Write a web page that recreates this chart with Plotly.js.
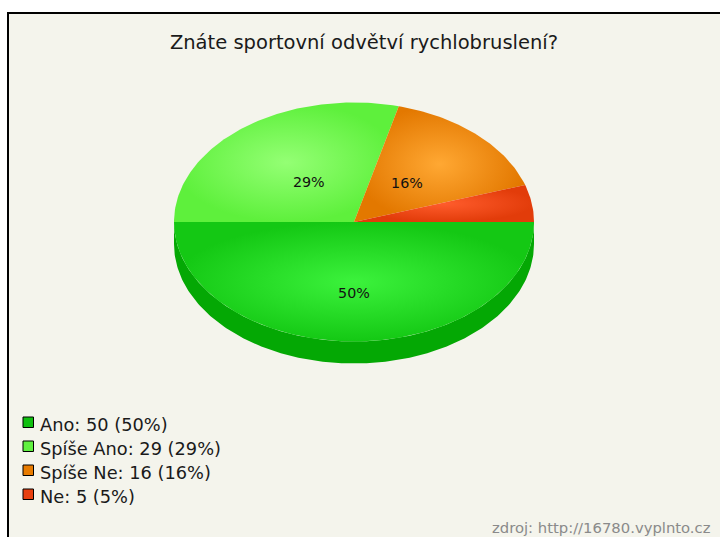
<!DOCTYPE html>
<html><head><meta charset="utf-8">
<script src="https://cdn.plot.ly/plotly-3.0.1.min.js"></script>
<style>html,body{margin:0;padding:0;background:#fff;}#chart{width:720px;height:537px;}</style>
</head><body><div id="chart"></div>
<script>
// ---- data ----
const categories = ['Ano', 'Spíše Ano', 'Spíše Ne', 'Ne'];
const values = [50, 29, 16, 5];
const chartTitle = 'Znáte sportovní odvětví rychlobruslení?';
const sourceText = 'zdroj: http://16780.vyplnto.cz';

// ---- styles ----
const faceInner = ['#3cf23c', '#94ff74', '#ffa833', '#ff5c2c'];
const faceOuter = ['#14c814', '#5ef03c', '#e37800', '#e23c0a'];
const sideColors = ['#04a804', '#48d028', '#c06400', '#c03008'];
const legendColors = ['#10c010', '#60f040', '#e87b00', '#e84010'];
const labelR = [0.61, 0.41, 0.43, 0.45];
const FONT = 'DejaVu Sans, Verdana, sans-serif';

const W = 720, H = 537;
const cx = 354, cy = 222, rx = 180, ry = 119.5, depth = 22;

const total = values.reduce((a, b) => a + b, 0);
const pcts = values.map(v => Math.round(v / total * 100));

const traces = [];
const sideTraces = [];
const faceTraces = [];
const lx = [], ly = [], lt = [];
let acc = 0;
values.forEach((v, i) => {
  const a0 = acc / total * 2 * Math.PI;
  acc += v;
  const a1 = acc / total * 2 * Math.PI;
  const steps = Math.max(2, Math.ceil((a1 - a0) / (Math.PI / 180)));
  // face
  const fx = [cx], fy = [cy];
  for (let k = 0; k <= steps; k++) {
    const a = a0 + (a1 - a0) * k / steps;
    fx.push(cx + rx * Math.cos(a));
    fy.push(cy + ry * Math.sin(a));
  }
  fx.push(cx); fy.push(cy);
  faceTraces.push({
    type: 'scatter', mode: 'lines', x: fx, y: fy, fill: 'toself',
    fillgradient: {type: 'radial', colorscale: [[0, faceInner[i]], [1, faceOuter[i]]]},
    line: {width: 0, color: faceOuter[i]}, hoverinfo: 'skip', showlegend: false, name: categories[i]
  });
  // side (front half only: angles 0..PI with y downwards)
  const s0 = Math.max(a0, 0), s1 = Math.min(a1, Math.PI);
  if (s1 > s0) {
    const n = Math.max(2, Math.ceil((s1 - s0) / (Math.PI / 180)));
    const sx = [], sy = [];
    for (let k = 0; k <= n; k++) {
      const a = s0 + (s1 - s0) * k / n;
      sx.push(cx + rx * Math.cos(a)); sy.push(cy + ry * Math.sin(a));
    }
    for (let k = n; k >= 0; k--) {
      const a = s0 + (s1 - s0) * k / n;
      sx.push(cx + rx * Math.cos(a)); sy.push(cy + ry * Math.sin(a) + depth);
    }
    sideTraces.push({
      type: 'scatter', mode: 'lines', x: sx, y: sy, fill: 'toself', fillcolor: sideColors[i],
      line: {width: 0, color: sideColors[i]}, hoverinfo: 'skip', showlegend: false
    });
  }
  // label
  if (pcts[i] >= 10) {
    const m = (a0 + a1) / 2;
    lx.push(cx + rx * labelR[i] * Math.cos(m));
    ly.push(cy + ry * labelR[i] * Math.sin(m));
    lt.push(pcts[i] + '%');
  }
});

traces.push(...sideTraces, ...faceTraces);
traces.push({
  type: 'scatter', mode: 'text', x: lx, y: ly, text: lt, textposition: 'middle center',
  textfont: {family: FONT, size: 14.3, color: '#111'}, hoverinfo: 'skip', showlegend: false
});

const shapes = [{
  type: 'rect', xref: 'x', yref: 'y', x0: 8, y0: 13, x1: 740, y1: 560,
  fillcolor: '#f4f4ec', line: {color: '#000', width: 2}, layer: 'below'
}];
const annotations = [];
const legendTop = 424.5, legendStep = 24;
categories.forEach((c, i) => {
  const yc = legendTop + i * legendStep;
  shapes.push({
    type: 'rect', xref: 'x', yref: 'y', x0: 23, x1: 33.5, y0: yc - 7.5, y1: yc + 3,
    fillcolor: legendColors[i], line: {color: '#000', width: 1}, layer: 'above'
  });
  annotations.push({
    xref: 'x', yref: 'y', x: 38, y: yc, xanchor: 'left', yanchor: 'middle', showarrow: false,
    text: c + ': ' + values[i] + ' (' + pcts[i] + '%)',
    font: {family: FONT, size: 17.8, color: '#1a1a1a'}
  });
});
annotations.push({
  xref: 'x', yref: 'y', x: 713, y: 527, xanchor: 'right', yanchor: 'middle', showarrow: false,
  text: sourceText, font: {family: FONT, size: 14.8, color: '#8a8a8a'}
});

const layout = {
  width: W, height: H, margin: {l: 0, r: 0, t: 0, b: 0, pad: 0},
  paper_bgcolor: '#ffffff', plot_bgcolor: 'rgba(0,0,0,0)',
  title: {text: chartTitle, x: 364 / W, xanchor: 'center', xref: 'paper', y: 1 - 42 / H, yanchor: 'middle', yref: 'container',
    font: {family: FONT, size: 19.5, color: '#1a1a1a'}},
  xaxis: {range: [0, W], visible: false, fixedrange: true},
  yaxis: {range: [H, 0], visible: false, fixedrange: true},
  showlegend: false, shapes: shapes, annotations: annotations, hovermode: false
};
Plotly.newPlot('chart', traces, layout, {staticPlot: true, displayModeBar: false});
</script></body></html>
